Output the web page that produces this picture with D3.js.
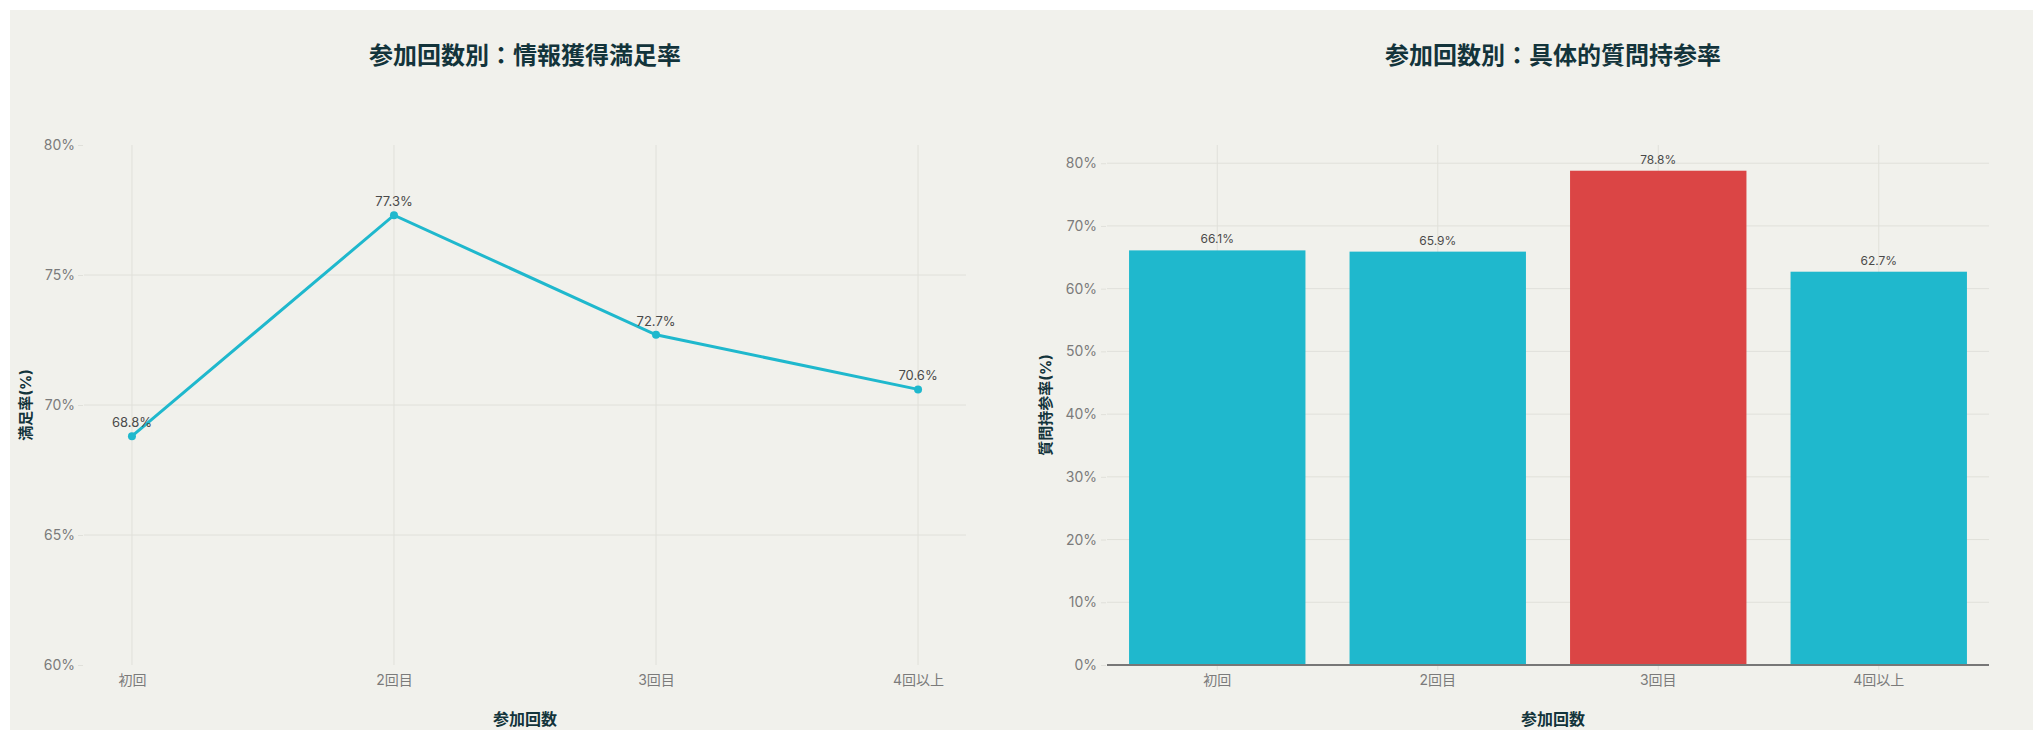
<!DOCTYPE html>
<html>
<head>
<meta charset="utf-8">
<script src="https://cdn.jsdelivr.net/npm/d3@7"></script>
<style>
  html, body { margin: 0; padding: 0; background: #ffffff; }
  svg { display: block; }
  text { font-family: "Inter", "Noto Sans CJK JP", sans-serif; }
</style>
</head>
<body>
<svg id="chart" width="2033" height="730"></svg>
<script>
// Participation-count categories shared by both panels
const categories = ['初回', '2回目', '3回目', '4回以上'];
// Information satisfaction rate (%) by participation count
const satisfaction = [68.8, 77.3, 72.7, 70.6];
// Rate of bringing concrete questions (%) by participation count
const questionRate = [66.1, 65.9, 78.8, 62.7];
// Category emphasised in the bar panel
const highlightCategory = '3回目';
// Axis tick values
const satTicks = [60, 65, 70, 75, 80];
const rateTicks = [0, 10, 20, 30, 40, 50, 60, 70, 80];

const COLORS = { main: '#1FB8CD', accent: '#DB4545', bg: '#F1F1EC', grid: '#E0E0DA',
                 title: '#13343B', tick: '#7b7b7b', label: '#4a4a4a', zero: '#777777' };

const svg = d3.select('#chart');
svg.append('rect').attr('x', 10).attr('y', 10).attr('width', 2023).attr('height', 720)
   .attr('fill', COLORS.bg);

function styleAxis(g) {
  g.select('.domain').remove();
  g.selectAll('.tick line').attr('stroke', COLORS.grid);
  g.selectAll('.tick text').attr('fill', COLORS.tick).attr('font-size', 14);
}

function panelTitles(cx, plotTop, plotBottom, axisX, title, yTitle) {
  svg.append('text').attr('x', cx).attr('y', 57).attr('text-anchor', 'middle')
     .attr('dominant-baseline', 'middle').attr('font-size', 24).attr('font-weight', 700)
     .attr('fill', COLORS.title).text(title);
  svg.append('text').attr('x', cx).attr('y', 721).attr('text-anchor', 'middle')
     .attr('dominant-baseline', 'middle').attr('font-size', 16).attr('font-weight', 700)
     .attr('fill', COLORS.title).text('参加回数');
  const my = (plotTop + plotBottom) / 2;
  svg.append('text').attr('transform', `translate(${axisX},${my}) rotate(-90)`)
     .attr('text-anchor', 'middle').attr('dominant-baseline', 'middle')
     .attr('font-size', 15).attr('font-weight', 700).attr('fill', COLORS.title).text(yTitle);
}

// ---- Left panel: line chart of satisfaction ----
(function () {
  const left = 84, right = 966, top = 145, bottom = 665;
  const x = d3.scalePoint().domain(categories).range([left, right]).padding(0.183);
  const y = d3.scaleLinear().domain([60, 80]).range([bottom, top]);
  const g = svg.append('g');

  // gridlines
  g.selectAll('.hgrid').data(satTicks.filter(t => t > 60 && t < 80)).join('line')
    .attr('x1', left).attr('x2', right).attr('y1', d => y(d)).attr('y2', d => y(d))
    .attr('stroke', COLORS.grid).attr('stroke-width', 1);
  g.selectAll('.vgrid').data(categories).join('line')
    .attr('x1', d => x(d)).attr('x2', d => x(d)).attr('y1', top).attr('y2', bottom)
    .attr('stroke', COLORS.grid).attr('stroke-width', 1);

  g.append('g').attr('transform', `translate(${left - 1},0)`)
    .call(d3.axisLeft(y).tickValues(satTicks).tickFormat(d => d + '%').tickSize(5).tickPadding(3))
    .call(styleAxis);
  g.append('g').attr('transform', `translate(0,${bottom})`)
    .call(d3.axisBottom(x).tickSize(0).tickPadding(10))
    .call(styleAxis);

  const pts = categories.map((c, i) => ({ c, v: satisfaction[i] }));
  g.append('path').datum(pts)
    .attr('d', d3.line().x(d => x(d.c)).y(d => y(d.v)))
    .attr('fill', 'none').attr('stroke', COLORS.main).attr('stroke-width', 3);
  g.selectAll('.pt').data(pts).join('circle')
    .attr('cx', d => x(d.c)).attr('cy', d => y(d.v)).attr('r', 4).attr('fill', COLORS.main);
  g.selectAll('.lbl').data(pts).join('text')
    .attr('x', d => x(d.c)).attr('y', d => y(d.v) - 9).attr('text-anchor', 'middle')
    .attr('font-size', 13).attr('fill', COLORS.label).text(d => d.v.toFixed(1) + '%');

  panelTitles(525, top, bottom, 27, '参加回数別：情報獲得満足率', '満足率(%)');
})();

// ---- Right panel: bar chart of question rate ----
(function () {
  const left = 1107, right = 1989, top = 145, bottom = 665;
  const x = d3.scaleBand().domain(categories).range([left, right]).paddingInner(0.2).paddingOuter(0.1);
  const y = d3.scaleLinear().domain([0, 82.9]).range([bottom, top]);
  const g = svg.append('g');

  g.selectAll('.hgrid').data(rateTicks.filter(t => t > 0)).join('line')
    .attr('x1', left).attr('x2', right).attr('y1', d => y(d)).attr('y2', d => y(d))
    .attr('stroke', COLORS.grid).attr('stroke-width', 1);
  g.selectAll('.vgrid').data(categories).join('line')
    .attr('x1', d => x(d) + x.bandwidth() / 2).attr('x2', d => x(d) + x.bandwidth() / 2)
    .attr('y1', top).attr('y2', bottom)
    .attr('stroke', COLORS.grid).attr('stroke-width', 1);

  g.append('g').attr('transform', `translate(${left - 1},0)`)
    .call(d3.axisLeft(y).tickValues(rateTicks).tickFormat(d => d + '%').tickSize(5).tickPadding(4))
    .call(styleAxis);
  g.append('g').attr('transform', `translate(0,${bottom})`)
    .call(d3.axisBottom(x).tickSize(5).tickPadding(5))
    .call(styleAxis);

  const bars = categories.map((c, i) => ({ c, v: questionRate[i] }));
  g.selectAll('.bar').data(bars).join('rect')
    .attr('x', d => x(d.c)).attr('width', x.bandwidth())
    .attr('y', d => y(d.v)).attr('height', d => y(0) - y(d.v))
    .attr('fill', d => d.c === highlightCategory ? COLORS.accent : COLORS.main);
  g.selectAll('.lbl').data(bars).join('text')
    .attr('x', d => x(d.c) + x.bandwidth() / 2).attr('y', d => y(d.v) - 7)
    .attr('text-anchor', 'middle').attr('font-size', 12).attr('fill', COLORS.label)
    .text(d => d.v.toFixed(1) + '%');

  // zero line
  g.append('line').attr('x1', left).attr('x2', right).attr('y1', y(0)).attr('y2', y(0))
    .attr('stroke', COLORS.zero).attr('stroke-width', 2);

  panelTitles(1553, top, bottom, 1047, '参加回数別：具体的質問持参率', '質問持参率(%)');
})();
</script>
</body>
</html>
